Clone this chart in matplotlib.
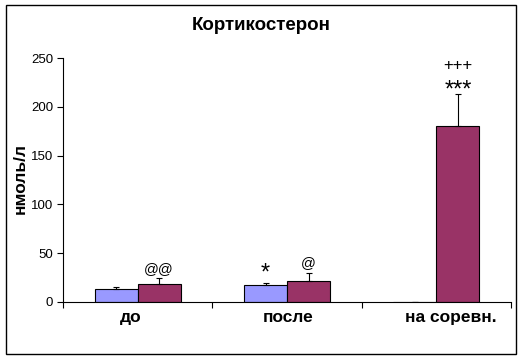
import numpy as np
import matplotlib
matplotlib.use("Agg")
import matplotlib.pyplot as plt
from matplotlib.patches import Rectangle

plt.rcParams["font.family"] = ["Liberation Sans", "DejaVu Sans"]

# ============== Daten ==============
categories = ["до", "после", "на соревн."]
series1 = [13, 17, 0]          # светлая серия
series1_err = [2, 2, 0]
series2 = [18, 22, 180]        # тёмная серия
series2_err = [7, 7.5, 33.5]

# Пометки над столбцами: (категория, серия, текст, высота центра)
marks = [
    (0, 1, "@@", 34),
    (1, 0, "*", 29),
    (1, 1, "@", 40),
    (2, 1, "***", 217),
    (2, 1, "+++", 242),
]

COL1 = "#9999FF"
COL2 = "#993366"
BAR_W = 0.288
LABEL_SHIFT = [-0.045, 0.01, 0.1]   # Versatz der Kategorienbeschriftung

fig = plt.figure(figsize=(5.26, 3.59), dpi=100)
ax = fig.add_axes([0.1198, 0.1588, 0.8517, 0.6796])

x = np.arange(len(categories))
ekw = dict(ecolor="black", elinewidth=0.8, capsize=2.5, capthick=0.8)
ax.bar(x - BAR_W / 2, series1, width=BAR_W, color=COL1, edgecolor="black", linewidth=0.8,
       yerr=[[0] * 3, series1_err], error_kw=ekw)
ax.bar(x + BAR_W / 2, series2, width=BAR_W, color=COL2, edgecolor="black", linewidth=0.8,
       yerr=[[0] * 3, series2_err], error_kw=ekw)

for ci, si, txt, yc in marks:
    xs = x[ci] + (BAR_W / 2 if si else -BAR_W / 2)
    if "*" in txt:
        ax.text(xs, yc, txt, ha="center", va="center", fontsize=17)
    elif "+" in txt:
        ax.text(xs, yc, txt, ha="center", va="center", fontsize=12)
    else:
        ax.text(xs, yc, txt, ha="center", va="center", fontsize=10.5)

ax.set_xlim(-0.5, 2.5)
ax.set_ylim(0, 250)
ax.set_yticks(range(0, 251, 50))
ax.tick_params(axis="y", labelsize=9.5, length=4, width=0.8, direction="out", pad=3)

ax.set_xticks([-0.5, 0.5, 1.5, 2.5])
ax.set_xticklabels([])
ax.tick_params(axis="x", which="major", length=4, width=0.8, direction="out")
ax.set_xticks(x + np.array(LABEL_SHIFT), minor=True)
ax.set_xticklabels(categories, minor=True, fontsize=12.5, fontweight="bold")
ax.tick_params(axis="x", which="minor", length=0, pad=6)

for s in ["top", "right"]:
    ax.spines[s].set_visible(False)
for s in ["left", "bottom"]:
    ax.spines[s].set_linewidth(0.8)

fig.text(20 / 526, 1 - 178 / 359, "нмоль/л", rotation=90, ha="center", va="center",
         fontsize=12.5, fontweight="bold")
fig.text(261 / 526, 1 - 26 / 359, "Кортикостерон", ha="center", va="center",
         fontsize=13.5, fontweight="bold")

fig.patches.append(Rectangle((6 / 526, 5 / 359), 510 / 526, 349 / 359, transform=fig.transFigure,
                             fill=False, edgecolor="black", linewidth=1))

fig.savefig("out.png", dpi=100)
